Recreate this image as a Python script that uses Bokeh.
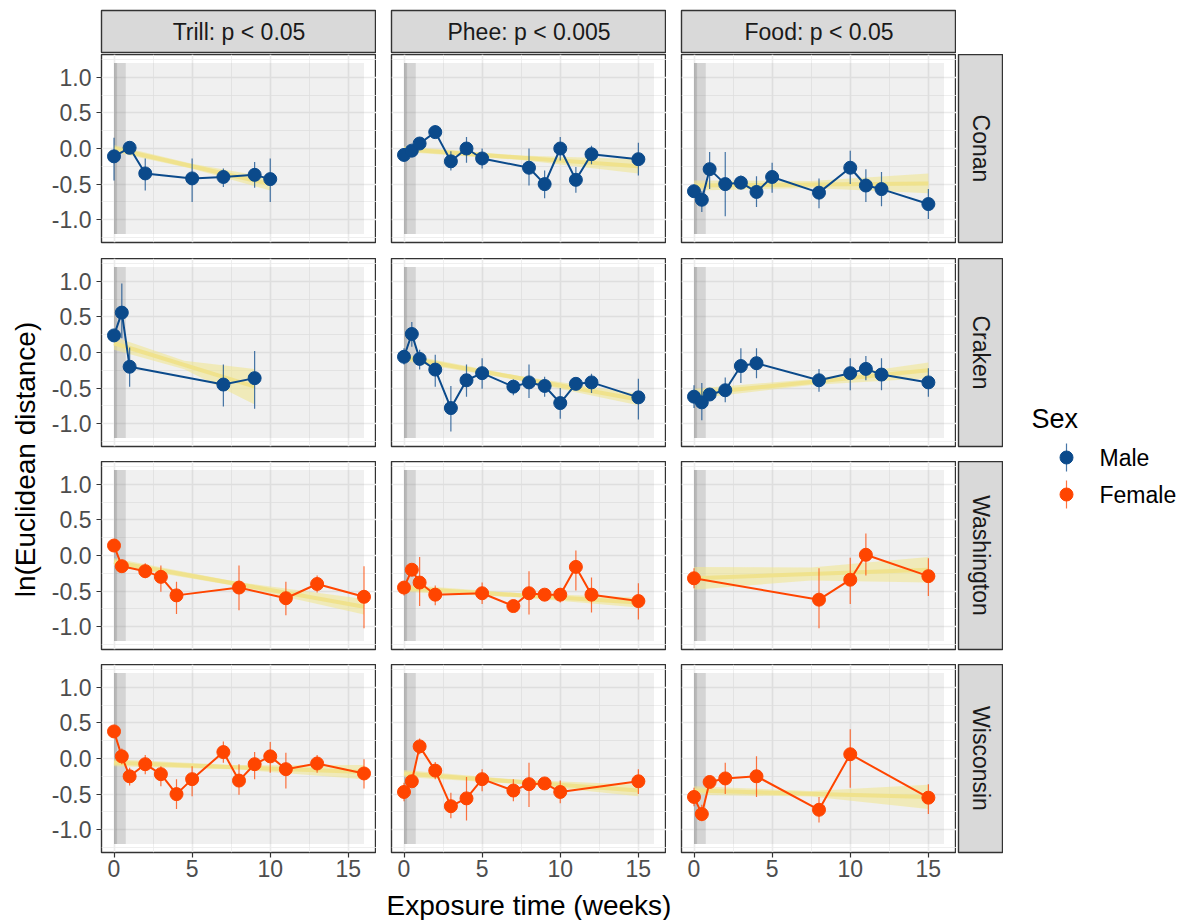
import math
from bokeh.plotting import figure
from bokeh.layouts import row, column
from bokeh.models import Range1d, FixedTicker, Grid, LinearAxis, Label, NumeralTickFormatter
from bokeh.embed import file_html
from bokeh.resources import INLINE

FONT = "Liberation Sans"

CALLS = ["Trill: p < 0.05", "Phee: p < 0.005", "Food: p < 0.05"]
SUBJECTS = ["Conan", "Craken", "Washington", "Wisconsin"]
SUBJECT_SEX = ["Male", "Male", "Female", "Female"]
SEX_LEVELS = ["Male", "Female"]
SEX_COLORS = ["#0B4A8B", "#FF4500"]
X_TITLE = "Exposure time (weeks)"
Y_TITLE = "ln(Euclidean distance)"
LEGEND_TITLE = "Sex"

X_TICKS = [0, 5, 10, 15]
X_MINOR = [2.5, 7.5, 12.5]
Y_TICKS = [-1.0, -0.5, 0.0, 0.5, 1.0]
Y_MINOR = [-1.25, -0.75, -0.25, 0.25, 0.75, 1.25]

# shaded design periods: [x_start, x_end]
STUDY_PERIOD = [0, 16]
STUDY_Y = [-1.2, 1.2]
BASELINE_A = [0, 0.75]
BASELINE_B = [0, 0.2]

# ---- data: x (weeks), mean, lower, upper; fit = [y_start, y_end, se_start, se_mid, se_end]
CONAN_TRILL_X = [0, 1, 2, 5, 7, 9, 10]
CONAN_TRILL_Y = [-0.11, 0.01, -0.35, -0.42, -0.40, -0.37, -0.43]
CONAN_TRILL_LO = [-0.45, -0.03, -0.59, -0.75, -0.54, -0.55, -0.75]
CONAN_TRILL_HI = [0.15, 0.05, -0.14, -0.14, -0.28, -0.19, -0.14]
CONAN_TRILL_FIT = [0.0, -0.50, 0.05, 0.035, 0.09]

CONAN_PHEE_X = [0, 0.5, 1, 2, 3, 4, 5, 8, 9, 10, 11, 12, 15]
CONAN_PHEE_Y = [-0.09, -0.03, 0.07, 0.23, -0.18, 0.0, -0.14, -0.27, -0.50, 0.0, -0.44, -0.08, -0.15]
CONAN_PHEE_LO = [-0.13, -0.07, 0.02, 0.16, -0.31, -0.20, -0.28, -0.52, -0.70, -0.17, -0.62, -0.22, -0.38]
CONAN_PHEE_HI = [-0.05, 0.01, 0.12, 0.33, -0.04, 0.16, 0.0, 0.0, -0.31, 0.16, -0.26, 0.04, 0.08]
CONAN_PHEE_FIT = [-0.01, -0.25, 0.04, 0.03, 0.10]

CONAN_FOOD_X = [0, 0.5, 1, 2, 3, 4, 5, 8, 10, 11, 12, 15]
CONAN_FOOD_Y = [-0.60, -0.72, -0.29, -0.50, -0.48, -0.61, -0.40, -0.62, -0.27, -0.52, -0.57, -0.78]
CONAN_FOOD_LO = [-0.65, -0.89, -0.57, -0.95, -0.57, -0.82, -0.62, -0.84, -0.50, -0.75, -0.81, -0.99]
CONAN_FOOD_HI = [-0.55, -0.60, -0.05, -0.05, -0.38, -0.39, -0.20, -0.42, -0.03, -0.29, -0.33, -0.57]
CONAN_FOOD_FIT = [-0.52, -0.49, 0.07, 0.05, 0.14]

CRAKEN_TRILL_X = [0, 0.5, 1, 7, 9]
CRAKEN_TRILL_Y = [0.24, 0.56, -0.20, -0.45, -0.36]
CRAKEN_TRILL_LO = [0.18, 0.20, -0.48, -0.76, -0.79]
CRAKEN_TRILL_HI = [0.30, 0.97, 0.07, -0.17, 0.02]
CRAKEN_TRILL_FIT = [0.13, -0.48, 0.09, 0.06, 0.25]

CRAKEN_PHEE_X = [0, 0.5, 1, 2, 3, 4, 5, 7, 8, 9, 10, 11, 12, 15]
CRAKEN_PHEE_Y = [-0.06, 0.26, -0.09, -0.24, -0.78, -0.39, -0.29, -0.48, -0.42, -0.47, -0.71, -0.44, -0.42, -0.63]
CRAKEN_PHEE_LO = [-0.17, 0.08, -0.24, -0.48, -1.11, -0.62, -0.51, -0.60, -0.64, -0.62, -0.93, -0.50, -0.57, -0.94]
CRAKEN_PHEE_HI = [0.06, 0.43, 0.04, -0.03, -0.47, -0.17, -0.08, -0.38, -0.17, -0.34, -0.50, -0.38, -0.30, -0.37]
CRAKEN_PHEE_FIT = [-0.07, -0.66, 0.05, 0.03, 0.08]

CRAKEN_FOOD_X = [0, 0.5, 1, 2, 3, 4, 8, 10, 11, 12, 15]
CRAKEN_FOOD_Y = [-0.62, -0.70, -0.59, -0.53, -0.19, -0.15, -0.39, -0.29, -0.23, -0.31, -0.42]
CRAKEN_FOOD_LO = [-0.78, -0.95, -0.65, -0.70, -0.43, -0.36, -0.55, -0.53, -0.39, -0.53, -0.62]
CRAKEN_FOOD_HI = [-0.46, -0.43, -0.53, -0.35, 0.06, 0.06, -0.23, -0.08, -0.05, -0.08, -0.22]
CRAKEN_FOOD_FIT = [-0.58, -0.25, 0.07, 0.04, 0.11]

WASHINGTON_TRILL_X = [0, 0.5, 2, 3, 4, 8, 11, 13, 16]
WASHINGTON_TRILL_Y = [0.14, -0.15, -0.22, -0.30, -0.56, -0.45, -0.60, -0.40, -0.58]
WASHINGTON_TRILL_LO = [0.10, -0.19, -0.32, -0.51, -0.82, -0.77, -0.84, -0.52, -1.02]
WASHINGTON_TRILL_HI = [0.18, -0.11, -0.11, -0.14, -0.37, -0.14, -0.37, -0.28, -0.15]
WASHINGTON_TRILL_FIT = [-0.09, -0.72, 0.05, 0.03, 0.11]

WASHINGTON_PHEE_X = [0, 0.5, 1, 2, 5, 7, 8, 9, 10, 11, 12, 15]
WASHINGTON_PHEE_Y = [-0.45, -0.20, -0.38, -0.55, -0.53, -0.71, -0.53, -0.55, -0.55, -0.16, -0.55, -0.64]
WASHINGTON_PHEE_LO = [-0.56, -0.24, -0.71, -0.70, -0.68, -0.75, -0.83, -0.59, -0.66, -0.49, -0.80, -0.90]
WASHINGTON_PHEE_HI = [-0.37, -0.16, -0.02, -0.42, -0.38, -0.67, -0.22, -0.51, -0.46, 0.07, -0.31, -0.39]
WASHINGTON_PHEE_FIT = [-0.46, -0.66, 0.05, 0.03, 0.07]

WASHINGTON_FOOD_X = [0, 8, 10, 11, 15]
WASHINGTON_FOOD_Y = [-0.32, -0.62, -0.34, 0.01, -0.29]
WASHINGTON_FOOD_LO = [-0.46, -1.02, -0.68, -0.28, -0.57]
WASHINGTON_FOOD_HI = [-0.18, -0.18, -0.03, 0.31, -0.04]
WASHINGTON_FOOD_FIT = [-0.32, -0.20, 0.16, 0.09, 0.18]

WISCONSIN_TRILL_X = [0, 0.5, 1, 2, 3, 4, 5, 7, 8, 9, 10, 11, 13, 16]
WISCONSIN_TRILL_Y = [0.38, 0.03, -0.25, -0.08, -0.22, -0.50, -0.29, 0.09, -0.31, -0.08, 0.03, -0.15, -0.07, -0.21]
WISCONSIN_TRILL_LO = [0.32, -0.08, -0.38, -0.22, -0.39, -0.71, -0.53, -0.06, -0.51, -0.29, -0.20, -0.42, -0.20, -0.42]
WISCONSIN_TRILL_HI = [0.44, 0.14, -0.13, 0.05, -0.11, -0.29, -0.11, 0.24, -0.08, 0.09, 0.23, 0.08, 0.05, -0.01]
WISCONSIN_TRILL_FIT = [-0.06, -0.19, 0.05, 0.03, 0.10]

WISCONSIN_PHEE_X = [0, 0.5, 1, 2, 3, 4, 5, 7, 8, 9, 10, 15]
WISCONSIN_PHEE_Y = [-0.47, -0.32, 0.17, -0.17, -0.67, -0.56, -0.29, -0.45, -0.36, -0.35, -0.47, -0.32]
WISCONSIN_PHEE_LO = [-0.60, -0.38, 0.06, -0.29, -0.84, -0.87, -0.46, -0.60, -0.68, -0.40, -0.63, -0.50]
WISCONSIN_PHEE_HI = [-0.34, -0.26, 0.28, -0.05, -0.48, -0.26, -0.15, -0.29, -0.06, -0.30, -0.31, -0.15]
WISCONSIN_PHEE_FIT = [-0.21, -0.45, 0.05, 0.03, 0.08]

WISCONSIN_FOOD_X = [0, 0.5, 1, 2, 4, 8, 10, 15]
WISCONSIN_FOOD_Y = [-0.54, -0.78, -0.33, -0.28, -0.25, -0.72, 0.06, -0.55]
WISCONSIN_FOOD_LO = [-0.67, -0.88, -0.38, -0.50, -0.54, -0.90, -0.41, -0.78]
WISCONSIN_FOOD_HI = [-0.41, -0.65, -0.28, -0.06, 0.03, -0.54, 0.41, -0.36]
WISCONSIN_FOOD_FIT = [-0.45, -0.54, 0.06, 0.04, 0.17]

DATA = [
    [(CONAN_TRILL_X, CONAN_TRILL_Y, CONAN_TRILL_LO, CONAN_TRILL_HI, CONAN_TRILL_FIT),
     (CONAN_PHEE_X, CONAN_PHEE_Y, CONAN_PHEE_LO, CONAN_PHEE_HI, CONAN_PHEE_FIT),
     (CONAN_FOOD_X, CONAN_FOOD_Y, CONAN_FOOD_LO, CONAN_FOOD_HI, CONAN_FOOD_FIT)],
    [(CRAKEN_TRILL_X, CRAKEN_TRILL_Y, CRAKEN_TRILL_LO, CRAKEN_TRILL_HI, CRAKEN_TRILL_FIT),
     (CRAKEN_PHEE_X, CRAKEN_PHEE_Y, CRAKEN_PHEE_LO, CRAKEN_PHEE_HI, CRAKEN_PHEE_FIT),
     (CRAKEN_FOOD_X, CRAKEN_FOOD_Y, CRAKEN_FOOD_LO, CRAKEN_FOOD_HI, CRAKEN_FOOD_FIT)],
    [(WASHINGTON_TRILL_X, WASHINGTON_TRILL_Y, WASHINGTON_TRILL_LO, WASHINGTON_TRILL_HI, WASHINGTON_TRILL_FIT),
     (WASHINGTON_PHEE_X, WASHINGTON_PHEE_Y, WASHINGTON_PHEE_LO, WASHINGTON_PHEE_HI, WASHINGTON_PHEE_FIT),
     (WASHINGTON_FOOD_X, WASHINGTON_FOOD_Y, WASHINGTON_FOOD_LO, WASHINGTON_FOOD_HI, WASHINGTON_FOOD_FIT)],
    [(WISCONSIN_TRILL_X, WISCONSIN_TRILL_Y, WISCONSIN_TRILL_LO, WISCONSIN_TRILL_HI, WISCONSIN_TRILL_FIT),
     (WISCONSIN_PHEE_X, WISCONSIN_PHEE_Y, WISCONSIN_PHEE_LO, WISCONSIN_PHEE_HI, WISCONSIN_PHEE_FIT),
     (WISCONSIN_FOOD_X, WISCONSIN_FOOD_Y, WISCONSIN_FOOD_LO, WISCONSIN_FOOD_HI, WISCONSIN_FOOD_FIT)],
]

# ---- layout constants
FW, FH = 275, 188
LEFT0 = 53
GAP = 15
ROW_BOTTOMS = [16, 15, 15, 34]
GRID_C = "#EBEBEB"
BORDER_C = "#333333"
STRIP_BG = "#D9D9D9"
TICK_FS = "23px"
STRIP_FS = "23px"
TITLE_FS = "28px"


def base_fig(fw, fh, xr, yr, left, right, top, bottom, bg="white"):
    f = figure(frame_width=fw, frame_height=fh, x_range=xr, y_range=yr,
               x_axis_type=None, y_axis_type=None, toolbar_location=None,
               output_backend="svg", title=None,
               min_border_left=left, min_border_right=right,
               min_border_top=top, min_border_bottom=bottom,
               background_fill_color=bg, border_fill_color="white",
               outline_line_color=BORDER_C, outline_line_width=1.4)
    return f


def make_panel(r, c):
    xs, ys, lo, hi, fit = DATA[r][c]
    color = SEX_COLORS[SEX_LEVELS.index(SUBJECT_SEX[r])]
    left = LEFT0 if c == 0 else GAP
    p = base_fig(FW, FH, Range1d(-0.8, 16.8), Range1d(-1.32, 1.32), left, 0, 0, ROW_BOTTOMS[r])

    xt = FixedTicker(ticks=X_TICKS, minor_ticks=X_MINOR)
    yt = FixedTicker(ticks=Y_TICKS, minor_ticks=Y_MINOR)
    p.add_layout(Grid(dimension=0, ticker=xt, grid_line_color=GRID_C, grid_line_width=1.6,
                      minor_grid_line_color=GRID_C, minor_grid_line_width=0.8), "center")
    p.add_layout(Grid(dimension=1, ticker=yt, grid_line_color=GRID_C, grid_line_width=1.6,
                      minor_grid_line_color=GRID_C, minor_grid_line_width=0.8), "center")

    if c == 0:
        ya = LinearAxis(ticker=FixedTicker(ticks=Y_TICKS), formatter=NumeralTickFormatter(format="0.0"),
                        axis_line_color=None, major_tick_line_color=BORDER_C, major_tick_line_width=1.2,
                        major_tick_out=5, major_tick_in=0, minor_tick_line_color=None,
                        major_label_text_font=FONT, major_label_text_font_size=TICK_FS,
                        major_label_text_color="#4D4D4D", major_label_standoff=5)
        p.add_layout(ya, "left")
    if r == 3:
        xa = LinearAxis(ticker=FixedTicker(ticks=X_TICKS),
                        axis_line_color=None, major_tick_line_color=BORDER_C, major_tick_line_width=1.2,
                        major_tick_out=5, major_tick_in=0, minor_tick_line_color=None,
                        major_label_text_font=FONT, major_label_text_font_size=TICK_FS,
                        major_label_text_color="#4D4D4D", major_label_standoff=2)
        p.add_layout(xa, "below")

    # design shading
    p.quad(left=STUDY_PERIOD[0], right=STUDY_PERIOD[1], bottom=STUDY_Y[0], top=STUDY_Y[1],
           fill_color="#808080", fill_alpha=0.12, line_color=None)
    p.quad(left=BASELINE_A[0], right=BASELINE_A[1], bottom=STUDY_Y[0], top=STUDY_Y[1],
           fill_color="#808080", fill_alpha=0.25, line_color=None)
    p.quad(left=BASELINE_B[0], right=BASELINE_B[1], bottom=STUDY_Y[0], top=STUDY_Y[1],
           fill_color="#808080", fill_alpha=0.3, line_color=None)

    # linear trend with ribbon
    x0, x1 = min(xs), max(xs)
    xm = (x0 + x1) / 2
    y0, y1, s0, sm, s1 = fit
    ym = (y0 + y1) / 2
    p.varea(x=[x0, xm, x1], y1=[y0 - s0, ym - sm, y1 - s1], y2=[y0 + s0, ym + sm, y1 + s1],
            fill_color="#F0E68C", fill_alpha=0.55)
    p.line([x0, x1], [y0, y1], line_color="#EFE28A", line_width=4, line_alpha=0.95)

    # error bars, line, points
    p.segment(x0=xs, y0=lo, x1=xs, y1=hi, line_color=color, line_width=1.2, line_alpha=0.75)
    p.line(xs, ys, line_color=color, line_width=2)
    p.scatter(xs, ys, size=13, fill_color=color, line_color=color)
    return p


def top_strip(c):
    left = LEFT0 if c == 0 else GAP
    s = base_fig(FW, 42, Range1d(0, 1), Range1d(0, 1), left, 0, 10, 2, bg=STRIP_BG)
    s.add_layout(Label(x=0.5, y=0.5, text=CALLS[c], text_align="center", text_baseline="middle",
                       text_font=FONT, text_font_size=STRIP_FS, text_color="#1A1A1A"))
    return s


def right_strip(r):
    s = base_fig(45, FH, Range1d(0, 1), Range1d(0, 1), 2, 0, 0, ROW_BOTTOMS[r], bg=STRIP_BG)
    s.add_layout(Label(x=0.5, y=0.5, text=SUBJECTS[r], angle=-math.pi / 2, text_align="center",
                       text_baseline="middle", text_font=FONT, text_font_size=STRIP_FS,
                       text_color="#1A1A1A"))
    return s


MAIN_W = LEFT0 + 3 * FW + 2 * GAP + 47
XT_H = 34
TOTAL_H = 54 + sum(FH + b for b in ROW_BOTTOMS) + XT_H

# x title (spans all panels)
xtf = figure(width=MAIN_W, height=XT_H, x_range=Range1d(0, MAIN_W), y_range=Range1d(XT_H, 0),
             x_axis_type=None, y_axis_type=None, toolbar_location=None, output_backend="svg",
             title=None, min_border=0, outline_line_color=None)
xtf.add_layout(Label(x=LEFT0 + (3 * FW + 2 * GAP) / 2, y=19, text=X_TITLE, text_align="center",
                     text_baseline="middle", text_font=FONT, text_font_size=TITLE_FS,
                     text_color="black"))

# y title
ytf = figure(width=48, height=TOTAL_H, x_range=Range1d(0, 48), y_range=Range1d(TOTAL_H, 0),
             x_axis_type=None, y_axis_type=None, toolbar_location=None, output_backend="svg",
             title=None, min_border=0, outline_line_color=None)
ytf.add_layout(Label(x=25, y=459, text=Y_TITLE, angle=math.pi / 2,
                     text_align="center", text_baseline="middle", text_font=FONT,
                     text_font_size=TITLE_FS, text_color="black"))

# legend
LEG_H = 560
leg = figure(width=185, height=LEG_H, x_range=Range1d(0, 185), y_range=Range1d(LEG_H, 0),
             x_axis_type=None, y_axis_type=None, toolbar_location=None, output_backend="svg",
             title=None, min_border=0, outline_line_color=None)
leg.add_layout(Label(x=28, y=418, text=LEGEND_TITLE, text_align="left", text_baseline="middle",
                     text_font=FONT, text_font_size="27px", text_color="black"))
key_y = [457 + 37 * i for i in range(len(SEX_LEVELS))]
key_x = [63] * len(SEX_LEVELS)
leg.segment(x0=key_x, y0=[k - 14 for k in key_y], x1=key_x, y1=[k + 14 for k in key_y],
            line_color=SEX_COLORS, line_width=1.2, line_alpha=0.75)
leg.scatter(key_x, key_y, size=13, fill_color=SEX_COLORS, line_color=SEX_COLORS)
for lab, ky in zip(SEX_LEVELS, key_y):
    leg.add_layout(Label(x=96, y=ky, text=lab, text_align="left", text_baseline="middle",
                         text_font=FONT, text_font_size="23px", text_color="black"))

strip_row = row(*[top_strip(c) for c in range(3)])
panel_rows = [row(*[make_panel(r, c) for c in range(3)], right_strip(r)) for r in range(4)]
main = column(strip_row, *panel_rows, xtf)
layout = row(ytf, main, leg)

open("out.html", "w").write(file_html(layout, INLINE))
